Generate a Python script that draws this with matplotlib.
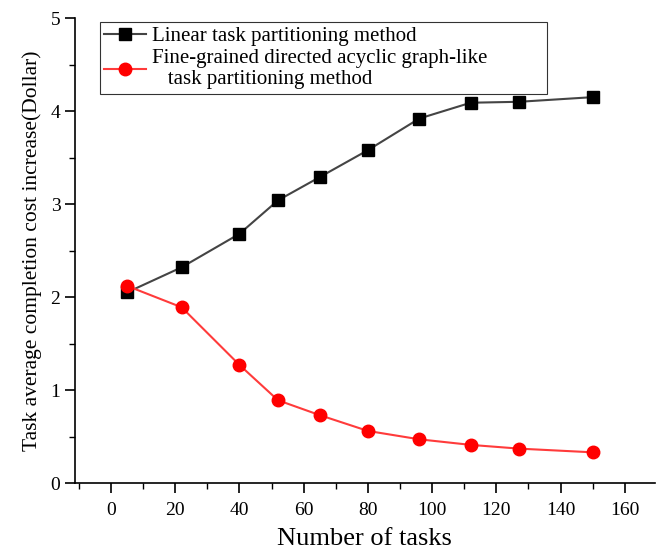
import numpy as np
import matplotlib.pyplot as plt
from matplotlib.ticker import MultipleLocator

# data
tasks = [5, 22, 40, 52, 65, 80, 96, 112, 127, 150]
linear_cost = [2.05, 2.32, 2.68, 3.04, 3.29, 3.58, 3.92, 4.09, 4.10, 4.15]
dag_cost = [2.12, 1.89, 1.27, 0.89, 0.73, 0.56, 0.47, 0.41, 0.37, 0.33]

labels = ["Linear task partitioning method",
          "Fine-grained directed acyclic graph-like\n   task partitioning method"]

plt.rcParams['font.family'] = ['Liberation Serif', 'DejaVu Serif']

fig = plt.figure(figsize=(6.62, 5.49), dpi=100)
ax = fig.add_axes([0.1133, 0.1202, 0.8757, 0.8468])

ax.plot(tasks, linear_cost, color='#444444', lw=1.5, marker='s', ms=8,
        mfc='black', mec='black', label=labels[0])
ax.plot(tasks, dag_cost, color='#ff3b3b', lw=1.5, marker='o', ms=9,
        mfc='#ff0000', mec='#ff0000', label=labels[1])

ax.set_xlim(-11.2, 169.3)
ax.set_ylim(0, 5)
ax.xaxis.set_major_locator(MultipleLocator(20))
ax.xaxis.set_minor_locator(MultipleLocator(10))
ax.yaxis.set_major_locator(MultipleLocator(1))
ax.yaxis.set_minor_locator(MultipleLocator(0.5))

for s in ['top', 'right']:
    ax.spines[s].set_visible(False)
for s in ['left', 'bottom']:
    ax.spines[s].set_linewidth(1.2)

ax.tick_params(which='major', direction='out', length=7, width=1.2, labelsize=14)
ax.tick_params(axis='x', which='major', pad=7)
ax.tick_params(which='minor', direction='out', length=4, width=1.0)

ax.set_xlabel("Number of tasks", fontsize=19, labelpad=6)
ax.set_ylabel("Task average completion cost increase(Dollar)", fontsize=15.5, labelpad=6)

leg = ax.legend(loc='upper left', bbox_to_anchor=(0.043, 0.991, 0.771, 0),
                mode='expand', borderaxespad=0, fontsize=15,
                frameon=True, fancybox=False, edgecolor='black', borderpad=0.2,
                handlelength=2.0, labelspacing=0.12, handletextpad=0.3)
leg.get_frame().set_linewidth(0.8)

fig.savefig('out.png', dpi=100)
